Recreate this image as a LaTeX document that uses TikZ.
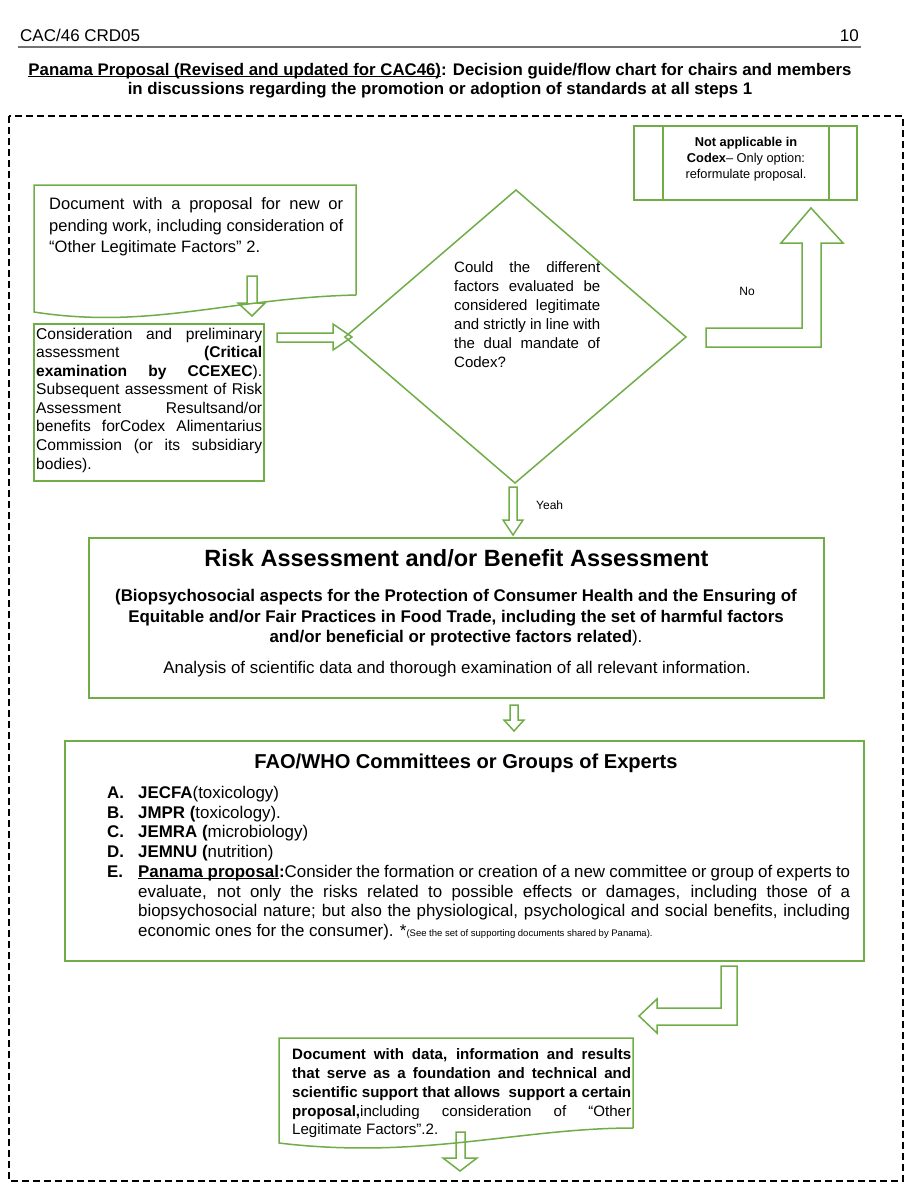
\documentclass[tikz,border=0pt]{standalone}
\usepackage{fontspec}
\setmainfont{Liberation Sans}
\definecolor{gr}{RGB}{112,173,71}
\newcommand{\fs}[2]{\fontsize{#1}{#2}\selectfont}
\newcommand{\jl}[2]{\makebox[#1pt][s]{#2}}
\newcommand{\myul}[1]{{\setbox0\hbox{#1}\rlap{\rule[-1.9pt]{\wd0}{1pt}}\box0}}
\tikzset{
  grn/.style={draw=gr, line width=1.5pt, line join=miter},
  tl/.style={inner sep=0pt, anchor=base west},
  tr/.style={inner sep=0pt, anchor=base east},
  tc/.style={inner sep=0pt, anchor=base},
  frame/.style={draw=black, line width=2pt, dash pattern=on 7pt off 4pt}
}
\begin{document}
\begin{tikzpicture}[x=1pt,y=-1pt]
\useasboundingbox (0,0) rectangle (911,1200);
\fill[white] (0,0) rectangle (911,1200);

% header
\node[tl] (hdr) at (20,41) {\fs{17}{20}CAC/46 CRD05};
\node[tr] (pg) at (859,41) {\fs{17}{20}10};
\draw[black!55, line width=1.3pt] (18,47) -- (861,47);

% title
\node[tc] (t1) at (440,75) {\fs{16.8}{19}\bfseries \myul{Panama Proposal (Revised and updated for CAC46)}: Decision guide/flow chart for chairs and members};
\node[tc] (t2) at (440,94.5) {\fs{16.8}{19}\bfseries in discussions regarding the promotion or adoption of standards at all steps 1};

% dashed frame
\draw[frame] (9,116) rectangle (903,1181);

% not applicable box
\draw[grn] (634,126) rectangle (857,200);
\draw[grn] (663,126) -- (663,200);
\draw[grn] (829,126) -- (829,200);
\node[tc] (na1) at (746,146.5) {\fs{12.8}{16}\bfseries Not applicable in};
\node[tc] (na2) at (746,162.5) {\fs{12.8}{16}\textbf{Codex}– Only option:};
\node[tc] (na3) at (746,178.5) {\fs{12.8}{16}reformulate proposal.};

% document 1
\draw[grn] (356,295) -- (356,185) -- (34,185) -- (34,312) .. controls (150,330) and (230,298) .. (356,295);
\node[tl] (d1a) at (49,209) {\fs{16.5}{21}\jl{294}{Document with a proposal for new or}};
\node[tl] (d1b) at (49,231) {\fs{16.5}{21}\jl{294}{pending work, including consideration of}};
\node[tl] (d1c) at (49,252) {\fs{16.5}{21}“Other Legitimate Factors” 2.};
% arrow inside doc 1
\draw[grn] (247,276) -- (257,276) -- (257,303) -- (265,303) -- (252,316) -- (238,303) -- (247,303) -- cycle;

% box 2
\draw[grn] (34,324) rectangle (264,481);
\node[tl] (b2a) at (36,339) {\fs{15.6}{18.6}\jl{226}{Consideration and preliminary}};
\node[tl] (b2b) at (36,357.5) {\fs{15.6}{18.6}\jl{226}{assessment \textbf{(Critical}}};
\node[tl] (b2c) at (36,376) {\fs{15.6}{18.6}\jl{226}{\textbf{examination by CCEXEC}).}};
\node[tl] (b2d) at (36,394.5) {\fs{15.6}{18.6}\jl{226}{Subsequent assessment of Risk}};
\node[tl] (b2e) at (36,413) {\fs{15.6}{18.6}\jl{226}{Assessment Resultsand/or}};
\node[tl] (b2f) at (36,431.5) {\fs{15.6}{18.6}\jl{226}{benefits forCodex Alimentarius}};
\node[tl] (b2g) at (36,450) {\fs{15.6}{18.6}\jl{226}{Commission (or its subsidiary}};
\node[tl] (b2h) at (36,469) {\fs{15.6}{18.6}bodies).};

% arrow box2 -> diamond
\draw[grn] (277,333) -- (333,333) -- (333,324) -- (352,337) -- (333,350) -- (333,342) -- (277,342) -- cycle;

% diamond
\draw[grn] (345,337) -- (516,190) -- (686,337) -- (515,483) -- cycle;
\node[tl] (q1) at (454,272.5) {\fs{15}{19}\jl{146}{Could the different}};
\node[tl] (q2) at (454,291.5) {\fs{15}{19}\jl{146}{factors evaluated be}};
\node[tl] (q3) at (454,310.5) {\fs{15}{19}\jl{146}{considered legitimate}};
\node[tl] (q4) at (454,329.5) {\fs{15}{19}\jl{146}{and strictly in line with}};
\node[tl] (q5) at (454,348.5) {\fs{15}{19}\jl{146}{the dual mandate of}};
\node[tl] (q6) at (454,367.5) {\fs{15}{19}Codex?};

% No arrow
\draw[grn] (706,328) -- (802,328) -- (802,243) -- (781,243) -- (811,208) -- (843,243) -- (821,243) -- (821,347) -- (706,347) -- cycle;
\node[tc] (no) at (747,295.5) {\fs{12}{14}No};

% Yeah arrow
\draw[grn] (509,487) -- (517,487) -- (517,520) -- (523,520) -- (513,535) -- (503,520) -- (509,520) -- cycle;
\node[tl] (yes) at (536,509) {\fs{12}{14}Yeah};

% Risk box
\draw[grn] (89,538) rectangle (824,698);
\node[tc] (r0) at (456.5,566) {\fs{23.5}{27}\bfseries Risk Assessment and/or Benefit Assessment};
\node[tc] (r1) at (456,601) {\fs{16.9}{20.5}\bfseries (Biopsychosocial aspects for the Protection of Consumer Health and the Ensuring of};
\node[tc] (r2) at (456,622) {\fs{16.9}{20.5}\bfseries Equitable and/or Fair Practices in Food Trade, including the set of harmful factors};
\node[tc] (r3) at (456,642) {\fs{16.9}{20.5}\textbf{and/or beneficial or protective factors related}).};
\node[tc] (r4) at (457,673) {\fs{16.9}{20.5}Analysis of scientific data and thorough examination of all relevant information.};

% arrow risk -> FAO
\draw[grn] (510,705) -- (518,705) -- (518,720) -- (524,720) -- (514,731) -- (504,720) -- (510,720) -- cycle;

% FAO box
\draw[grn] (65,741) rectangle (864,961);
\node[tc] (f0) at (466,768) {\fs{20.1}{24}\bfseries FAO/WHO Committees or Groups of Experts};
\node[tl] (la) at (107,798) {\fs{16.9}{19.6}\bfseries A.};
\node[tl] (lb) at (107,818) {\fs{16.9}{19.6}\bfseries B.};
\node[tl] (lc) at (107,837) {\fs{16.9}{19.6}\bfseries C.};
\node[tl] (ld) at (107,857) {\fs{16.9}{19.6}\bfseries D.};
\node[tl] (le) at (107,877) {\fs{16.9}{19.6}\bfseries E.};
\node[tl] (ia) at (138,798) {\fs{16.9}{19.6}\textbf{JECFA}(toxicology)};
\node[tl] (ib) at (138,818) {\fs{16.9}{19.6}\textbf{JMPR (}toxicology).};
\node[tl] (ic) at (138,837) {\fs{16.9}{19.6}\textbf{JEMRA (}microbiology)};
\node[tl] (id) at (138,857) {\fs{16.9}{19.6}\textbf{JEMNU (}nutrition)};
\node[tl] (ie1) at (138,877) {\fs{16.9}{19.6}\jl{712}{\textbf{\myul{Panama proposal}:}Consider the formation or creation of a new committee or group of experts to}};
\node[tl] (ie2) at (138,897) {\fs{16.9}{19.6}\jl{712}{evaluate, not only the risks related to possible effects or damages, including those of a}};
\node[tl] (ie3) at (138,916) {\fs{16.9}{19.6}\jl{712}{biopsychosocial nature; but also the physiological, psychological and social benefits, including}};
\node[tl] (ie4) at (138,936) {\fs{16.9}{19.6}economic ones for the consumer). *{\fs{9.5}{11}(See the set of supporting documents shared by Panama).}};

% elbow arrow FAO -> doc2
\draw[grn] (721,966) -- (737,966) -- (737,1025) -- (657,1025) -- (657,1033) -- (639,1016) -- (657,999) -- (657,1008) -- (721,1008) -- cycle;

% document 2
\draw[grn] (633,1128) -- (633,1038) -- (279,1038) -- (279,1143) .. controls (420,1160) and (520,1128) .. (633,1128);
\node[tl] (d2a) at (292,1059.5) {\fs{15.1}{19}\jl{339}{\textbf{Document with data, information and results}}};
\node[tl] (d2b) at (292,1078.5) {\fs{15.1}{19}\jl{339}{\textbf{that serve as a foundation and technical and}}};
\node[tl] (d2c) at (292,1097.5) {\fs{15.1}{19}\jl{339}{\textbf{scientific support that allows\ \ support a certain}}};
\node[tl] (d2d) at (292,1116.5) {\fs{15.1}{19}\jl{339}{\textbf{proposal,}including consideration of “Other}};
\node[tl] (d2e) at (292,1134.5) {\fs{15.1}{19}Legitimate Factors”.2.};

% arrow out of doc2
\draw[grn] (456,1132) -- (465,1132) -- (465,1158) -- (477,1158) -- (460,1171) -- (443,1158) -- (456,1158) -- cycle;
\end{tikzpicture}
\end{document}
